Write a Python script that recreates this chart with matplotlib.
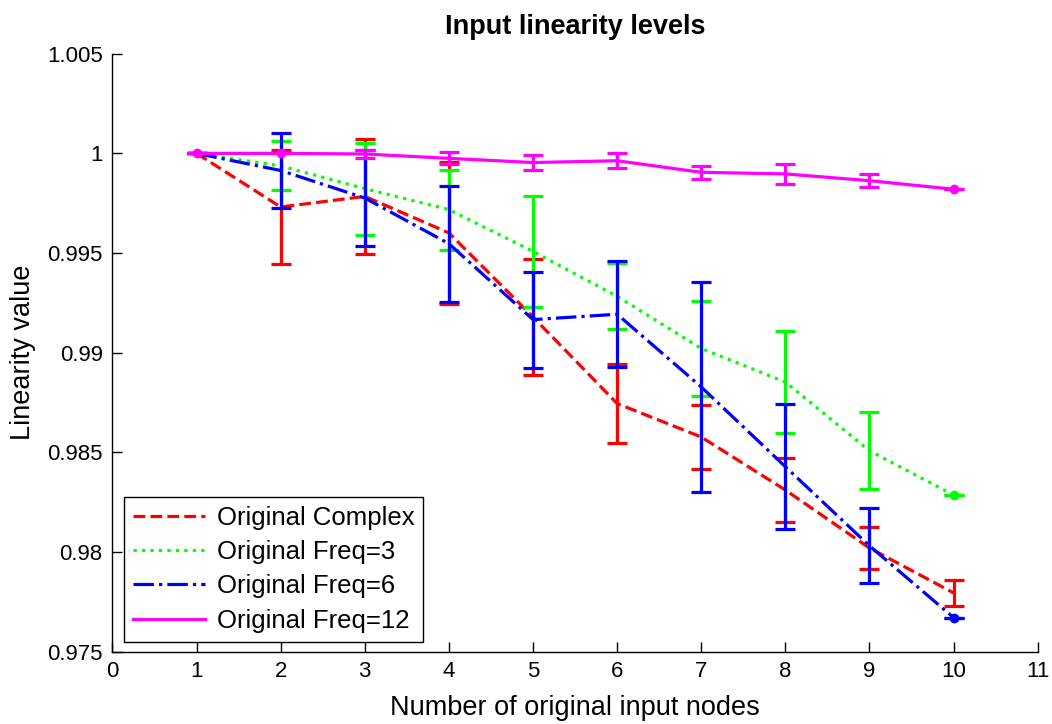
import matplotlib
matplotlib.use("Agg")
import matplotlib.pyplot as plt

plt.rcParams["font.family"] = ["Liberation Sans", "DejaVu Sans"]

# data
nodes = [1, 2, 3, 4, 5, 6, 7, 8, 9, 10]

complex_mean = [1.0, 0.99731, 0.99784, 0.99601, 0.99179, 0.98745, 0.98577, 0.98311, 0.98020, 0.97795]
complex_err = [0.0, 0.00286, 0.00288, 0.00356, 0.00291, 0.00198, 0.00161, 0.00162, 0.00103, 0.00067]

freq3_mean = [1.0, 0.99937, 0.99823, 0.99718, 0.99508, 0.99283, 0.99021, 0.98853, 0.98508, 0.98286]
freq3_err = [0.0, 0.00123, 0.00231, 0.00201, 0.00278, 0.00166, 0.00238, 0.00256, 0.00192, 0.0]

freq6_mean = [1.0, 0.99914, 0.99776, 0.99547, 0.99166, 0.99193, 0.98828, 0.98428, 0.98031, 0.97671]
freq6_err = [0.0, 0.0019, 0.0024, 0.00291, 0.00241, 0.00267, 0.00527, 0.00314, 0.00188, 0.0]

freq12_mean = [1.0, 1.0, 0.99997, 0.99975, 0.99954, 0.99963, 0.99905, 0.99897, 0.99863, 0.9982]
freq12_err = [0.0, 0.0, 0.00018, 0.0003, 0.00038, 0.00038, 0.00034, 0.0005, 0.00034, 0.0]

series = [
    ("Original Complex", complex_mean, complex_err, (1, 0, 0), "--"),
    ("Original Freq=3", freq3_mean, freq3_err, (0, 1, 0), ":"),
    ("Original Freq=6", freq6_mean, freq6_err, (0, 0, 1), "-."),
    ("Original Freq=12", freq12_mean, freq12_err, (1, 0, 1), "-"),
]

fig = plt.figure(figsize=(10.52, 7.24), dpi=100)
ax = fig.add_axes([0.1069, 0.0999, 0.8795, 0.8259])

handles = []
for i, (name, mean, err, color, ls) in enumerate(series):
    z = 3 + i
    ax.errorbar(nodes, mean, yerr=err, fmt="none", ecolor=color,
                elinewidth=2.3, capsize=7, capthick=2.3, zorder=z)
    line, = ax.plot(nodes, mean, ls, color=color, lw=2.3, label=name, zorder=z)
    # zero-variance points show up as a dot in the original
    dots = [k for k, e in enumerate(err) if e == 0 and k > 0 or (k == 0 and i == 3)]
    ax.plot([nodes[k] for k in dots], [mean[k] for k in dots], "o",
            color=color, ms=6, zorder=z)
    handles.append(line)

ax.set_xlim(0, 11)
ax.set_ylim(0.975, 1.005)
ax.set_xticks(range(0, 12))
ax.set_yticks([0.975, 0.98, 0.985, 0.99, 0.995, 1.0, 1.005])
ax.set_yticklabels(["0.975", "0.98", "0.985", "0.99", "0.995", "1", "1.005"])

for side in ["top", "right"]:
    ax.spines[side].set_visible(False)
for side in ["left", "bottom"]:
    ax.spines[side].set_linewidth(1.0)
ax.tick_params(direction="in", length=7, width=1.0, labelsize=16, pad=7)

ax.set_title("Input linearity levels", fontsize=19.5, fontweight="bold", pad=14)
ax.set_xlabel("Number of original input nodes", fontsize=19.5, labelpad=9)
ax.set_ylabel("Linearity value", fontsize=19.5, labelpad=8)

leg = ax.legend(handles=handles, loc="lower left",
                bbox_to_anchor=(0.118, 0.1137), bbox_transform=fig.transFigure,
                borderaxespad=0, fontsize=18.5, handlelength=2.8,
                handletextpad=0.45, labelspacing=0.4, borderpad=0.35,
                fancybox=False, framealpha=1, edgecolor="black")
leg.get_frame().set_linewidth(1.0)

fig.savefig("out.png", dpi=100)
